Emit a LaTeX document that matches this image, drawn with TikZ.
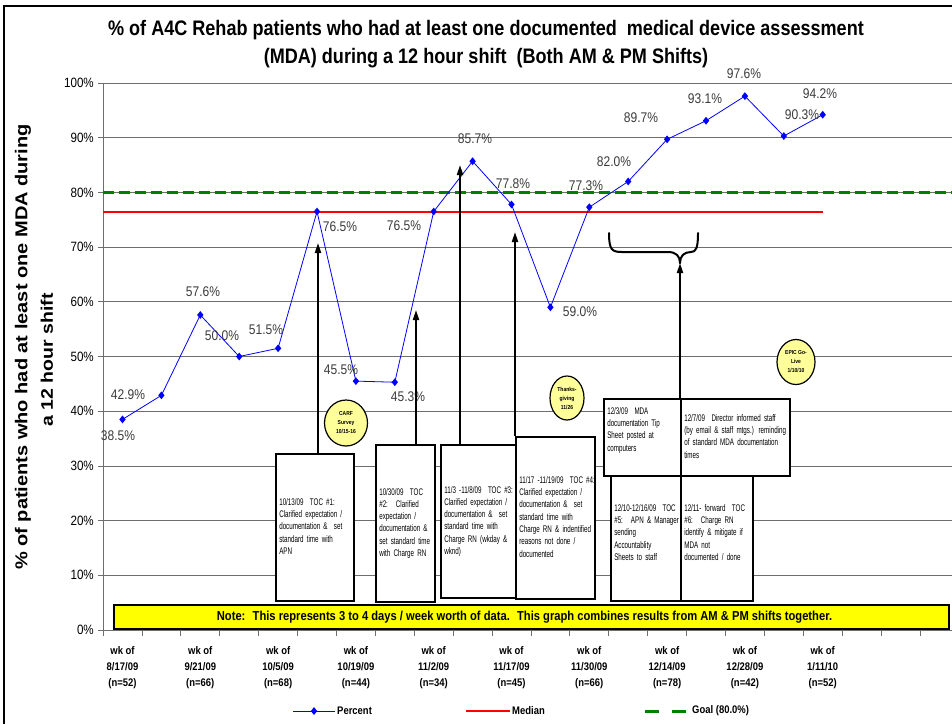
\documentclass[tikz,border=0pt]{standalone}
\usepackage{fontspec}
\usepackage{graphicx}
\setmainfont{Liberation Sans}[FakeStretch=0.86]
\newfontfamily\narrowfont{Liberation Sans}[FakeStretch=0.65]
\newfontfamily\widefont{Liberation Sans}
\usetikzlibrary{arrows.meta,shapes.geometric}

% fixed, left-aligned lines inside an annotation box
\newcommand{\evlines}[1]{\begin{tabular}{@{}l@{}}#1\end{tabular}}

\definecolor{ptblue}{RGB}{0,0,255}
\definecolor{goalgreen}{RGB}{0,128,0}
\definecolor{medred}{RGB}{255,0,0}
\definecolor{notebg}{RGB}{255,255,0}
\definecolor{eventbg}{RGB}{255,255,153}
\definecolor{labgray}{RGB}{60,60,60}
\definecolor{gridgray}{RGB}{110,110,110}

\tikzset{
  grid/.style={gridgray, line width=0.7pt},
  axisline/.style={gridgray, line width=0.8pt},
  ptline/.style={ptblue, line width=0.8pt},
  ptmark/.style={diamond, fill=ptblue, inner sep=0pt, minimum width=6.5pt, minimum height=8pt},
  medline/.style={medred, line width=2pt},
  goalline/.style={goalgreen, line width=3pt, dash pattern=on 11pt off 5pt},
  vlab/.style={labgray, font=\fontsize{14}{16}\selectfont, inner sep=0pt},
  ticklab/.style={anchor=east, font=\fontsize{13.5}{15}\selectfont, inner sep=0pt},
  xlab/.style={align=center, font=\bfseries\fontsize{11}{16}\selectfont, inner sep=0pt},
  evbox/.style={draw, line width=1.6pt, fill=white, anchor=north west, align=left,
    inner xsep=3.5pt, inner ysep=0pt, font=\narrowfont\fontsize{9.6}{12.3}\selectfont},
  event/.style={ellipse, draw, line width=1.2pt, fill=eventbg, align=center, inner sep=0pt,
    font=\bfseries\fontsize{5.8}{9}\selectfont},
  ann/.style={line width=2pt, -{Triangle[width=6pt,length=10pt]}},
  brace/.style={line width=2pt, line cap=round},
  note/.style={draw, line width=1.8pt, fill=notebg, minimum width=835pt, minimum height=24pt,
    inner sep=0pt, font=\bfseries\fontsize{13}{15}\selectfont},
  legtext/.style={anchor=west, inner sep=0pt, font=\bfseries\fontsize{11}{13}\selectfont}
}

\begin{document}
\begin{tikzpicture}[x=1pt, y=-1pt,
  declare function={px(\i)=83.6+38.9*\i; py(\v)=630-5.47*\v;}]
\useasboundingbox (0,0) rectangle (952,724);
\fill[white] (0,0) rectangle (952,724);

% outer frame
\draw[line width=2pt] (4,724) -- (4,6) -- (952,6);

% title
\node[font=\bfseries\fontsize{21}{24}\selectfont] (title1) at (486,30)
  {\% of A4C Rehab patients who had at least one documented \ medical device assessment};
\node[font=\bfseries\fontsize{21}{24}\selectfont] (title2) at (486,58)
  {(MDA) during a 12 hour shift \ (Both AM \& PM Shifts)};

% y-axis title
\node[rotate=90, font=\widefont\bfseries\fontsize{20}{22}\selectfont, inner sep=0pt] (ylab1) at (23,347)
  {\scalebox{1}[0.86]{\% of patients who had at least one MDA during}};
\node[rotate=90, font=\widefont\bfseries\fontsize{19.5}{22}\selectfont, inner sep=0pt] (ylab2) at (47,360)
  {\scalebox{1}[0.86]{a 12 hour shift}};

% gridlines, axes, ticks
\foreach \v in {10,20,...,100}
  \draw[grid] (103,{py(\v)}) -- (952,{py(\v)});
\draw[axisline] (103,{py(100)}) -- (103,630) -- (952,630);
\foreach \v in {0,10,...,100} {
  \draw[axisline] (98,{py(\v)}) -- (103,{py(\v)});
  \node[ticklab] (yt\v) at (94,{py(\v)}) {\v\%};
}
\foreach \k in {0,...,21}
  \draw[axisline] ({103+38.9*\k},630) -- ({103+38.9*\k},636);

% category labels
\node[xlab] (w1)  at ({px(1)},668)  {wk of\\8/17/09\\(n=52)};
\node[xlab] (w2)  at ({px(3)},668)  {wk of\\9/21/09\\(n=66)};
\node[xlab] (w3)  at ({px(5)},668)  {wk of\\10/5/09\\(n=68)};
\node[xlab] (w4)  at ({px(7)},668)  {wk of\\10/19/09\\(n=44)};
\node[xlab] (w5)  at ({px(9)},668)  {wk of\\11/2/09\\(n=34)};
\node[xlab] (w6)  at ({px(11)},668) {wk of\\11/17/09\\(n=45)};
\node[xlab] (w7)  at ({px(13)},668) {wk of\\11/30/09\\(n=66)};
\node[xlab] (w8)  at ({px(15)},668) {wk of\\12/14/09\\(n=78)};
\node[xlab] (w9)  at ({px(17)},668) {wk of\\12/28/09\\(n=42)};
\node[xlab] (w10) at ({px(19)},668) {wk of\\1/11/10\\(n=52)};

% goal and median
\draw[goalline] (103,{py(80)}) -- (952,{py(80)});
\draw[medline] (103,{py(76.5)}) -- ({px(19)},{py(76.5)});

% data series
\foreach \i/\v in {1/38.5,2/42.9,3/57.6,4/50.0,5/51.5,6/76.5,7/45.5,8/45.3,9/76.5,10/85.7,
                   11/77.8,12/59.0,13/77.3,14/82.0,15/89.7,16/93.1,17/97.6,18/90.3,19/94.2}
  \coordinate (p\i) at ({px(\i)},{py(\v)});
\foreach \i [evaluate=\i as \j using int(\i+1)] in {1,...,18}
  \draw[ptline] (p\i) -- (p\j);
\foreach \i in {1,...,19}
  \node[ptmark] (m\i) at (p\i) {};

% data labels
\node[vlab] (l1)  at (118,436) {38.5\%};
\node[vlab] (l2)  at (128,395) {42.9\%};
\node[vlab] (l3)  at (203,292) {57.6\%};
\node[vlab] (l4)  at (222,336) {50.0\%};
\node[vlab] (l5)  at (266,330) {51.5\%};
\node[vlab] (l6)  at (340,227) {76.5\%};
\node[vlab] (l7)  at (341,370) {45.5\%};
\node[vlab] (l8)  at (408,397) {45.3\%};
\node[vlab] (l9)  at (404,226) {76.5\%};
\node[vlab] (l10) at (475,139) {85.7\%};
\node[vlab] (l11) at (513,184) {77.8\%};
\node[vlab] (l12) at (580,312) {59.0\%};
\node[vlab] (l13) at (586,186) {77.3\%};
\node[vlab] (l14) at (614,162) {82.0\%};
\node[vlab] (l15) at (641,118) {89.7\%};
\node[vlab] (l16) at (705,99)  {93.1\%};
\node[vlab] (l17) at (744,74)  {97.6\%};
\node[vlab] (l18) at (802,115) {90.3\%};
\node[vlab] (l19) at (820,94)  {94.2\%};

% annotation arrow tips
\coordinate (t1) at (318,243);
\coordinate (t2) at (416,310);
\coordinate (t3) at (460,165);
\coordinate (t4) at (515,232);
\coordinate (bl) at (609,233);
\coordinate (br) at (698,233);
\coordinate (bc) at (680,263);

% change-of-practice boxes
\node[evbox, text width=71pt, minimum height=147pt] (b1) at (275,453)
  {\evlines{10/13/09 \ TOC \#1:\\Clarified expectation /\\documentation \& \ set\\standard time with\\APN}};
\node[evbox, text width=52pt, minimum height=157pt] (b2) at (375,444)
  {\evlines{10/30/09 \ TOC\\\#2: \ Clarified\\expectation /\\documentation \&\\set standard time\\with Charge RN}};
\node[evbox, text width=68pt, minimum height=153pt] (b3) at (440,444)
  {\evlines{11/3 -11/8/09 \ TOC \#3:\\Clarified expectation /\\documentation \& \ set\\standard time with\\Charge RN (wkday \&\\wknd)}};
\node[evbox, text width=72pt, minimum height=162pt] (b4) at (515,436)
  {\evlines{11/17 -11/19/09 \ TOC \#4:\\Clarified expectation /\\documentation \& \ set\\standard time with\\Charge RN \& indentified\\reasons not done /\\documented}};
\node[evbox, text width=70pt, minimum height=77pt] (b5a) at (603,398)
  {\evlines{12/3/09 \ MDA\\documentation Tip\\Sheet posted at\\computers\\[14pt]}};
\node[evbox, text width=102pt, minimum height=77pt] (b6a) at (680,398)
  {\evlines{12/7/09 \ Director informed staff\\(by email \& staff mtgs.) reminding\\of standard MDA documentation\\times}};
\node[evbox, text width=63pt, minimum height=125pt] (b5b) at (610,475)
  {\evlines{12/10-12/16/09 \ TOC\\\#5: \ APN \& Manager\\sending\\Accountablity\\Sheets to staff\\[10pt]}};
\node[evbox, text width=65pt, minimum height=125pt] (b6b) at (680,475)
  {\evlines{12/11- forward \ TOC\\\#6: \ Charge RN\\identify \& mitigate if\\MDA not\\documented / done\\[10pt]}};

\draw[ann] (b1.north -| t1) -- (t1);
\draw[ann] (b2.north -| t2) -- (t2);
\draw[ann] (b3.north -| t3) -- (t3);
\draw[ann] (b4.north -| t4) -- (t4);

% brace over the December actions
\draw[brace] (bl) .. controls (609,250) and (612,252) .. (622,252) -- (668,252)
  .. controls (676,252) and (680,256) .. (bc);
\draw[brace] (br) .. controls (698,248) and (696,252) .. (691,252)
  .. controls (684,252) and (680,256) .. (bc);
\draw[ann] (b6a.north west) -- (bc);

% calendar events
\node[event, minimum width=43pt, minimum height=46pt] (carf) at (346,423) {CARF\\Survey\\10/15-16};
\node[event, minimum width=34pt, minimum height=44pt] (thx) at (567,398) {Thanks-\\giving\\11/26};
\node[event, minimum width=38pt, minimum height=45pt] (epic) at (796,362) {EPIC Go-\\Live\\1/10/10};

% note banner
\node[note] (note) at (531.5,617)
  {Note: \ This represents 3 to 4 days / week worth of data. \ This graph combines results from AM \& PM shifts together.\hspace*{14pt}};

% legend
\coordinate (lg1a) at (293,711);
\coordinate (lg1b) at (335,711);
\draw[ptline] (lg1a) -- (lg1b);
\node[ptmark] (lgm) at (314,711) {};
\node[legtext] (lgt1) at (337,711) {Percent};
\coordinate (lg2a) at (466,711);
\coordinate (lg2b) at (510,711);
\draw[medline, line width=2.5pt] (lg2a) -- (lg2b);
\node[legtext] (lgt2) at (512,711) {Median};
\coordinate (lg3a) at (645,711);
\coordinate (lg3b) at (690,711);
\draw[goalline, dash pattern=on 14pt off 13pt] (lg3a) -- (lg3b);
\node[legtext] (lgt3) at (692,711) {Goal (80.0\%)};
\end{tikzpicture}
\end{document}
